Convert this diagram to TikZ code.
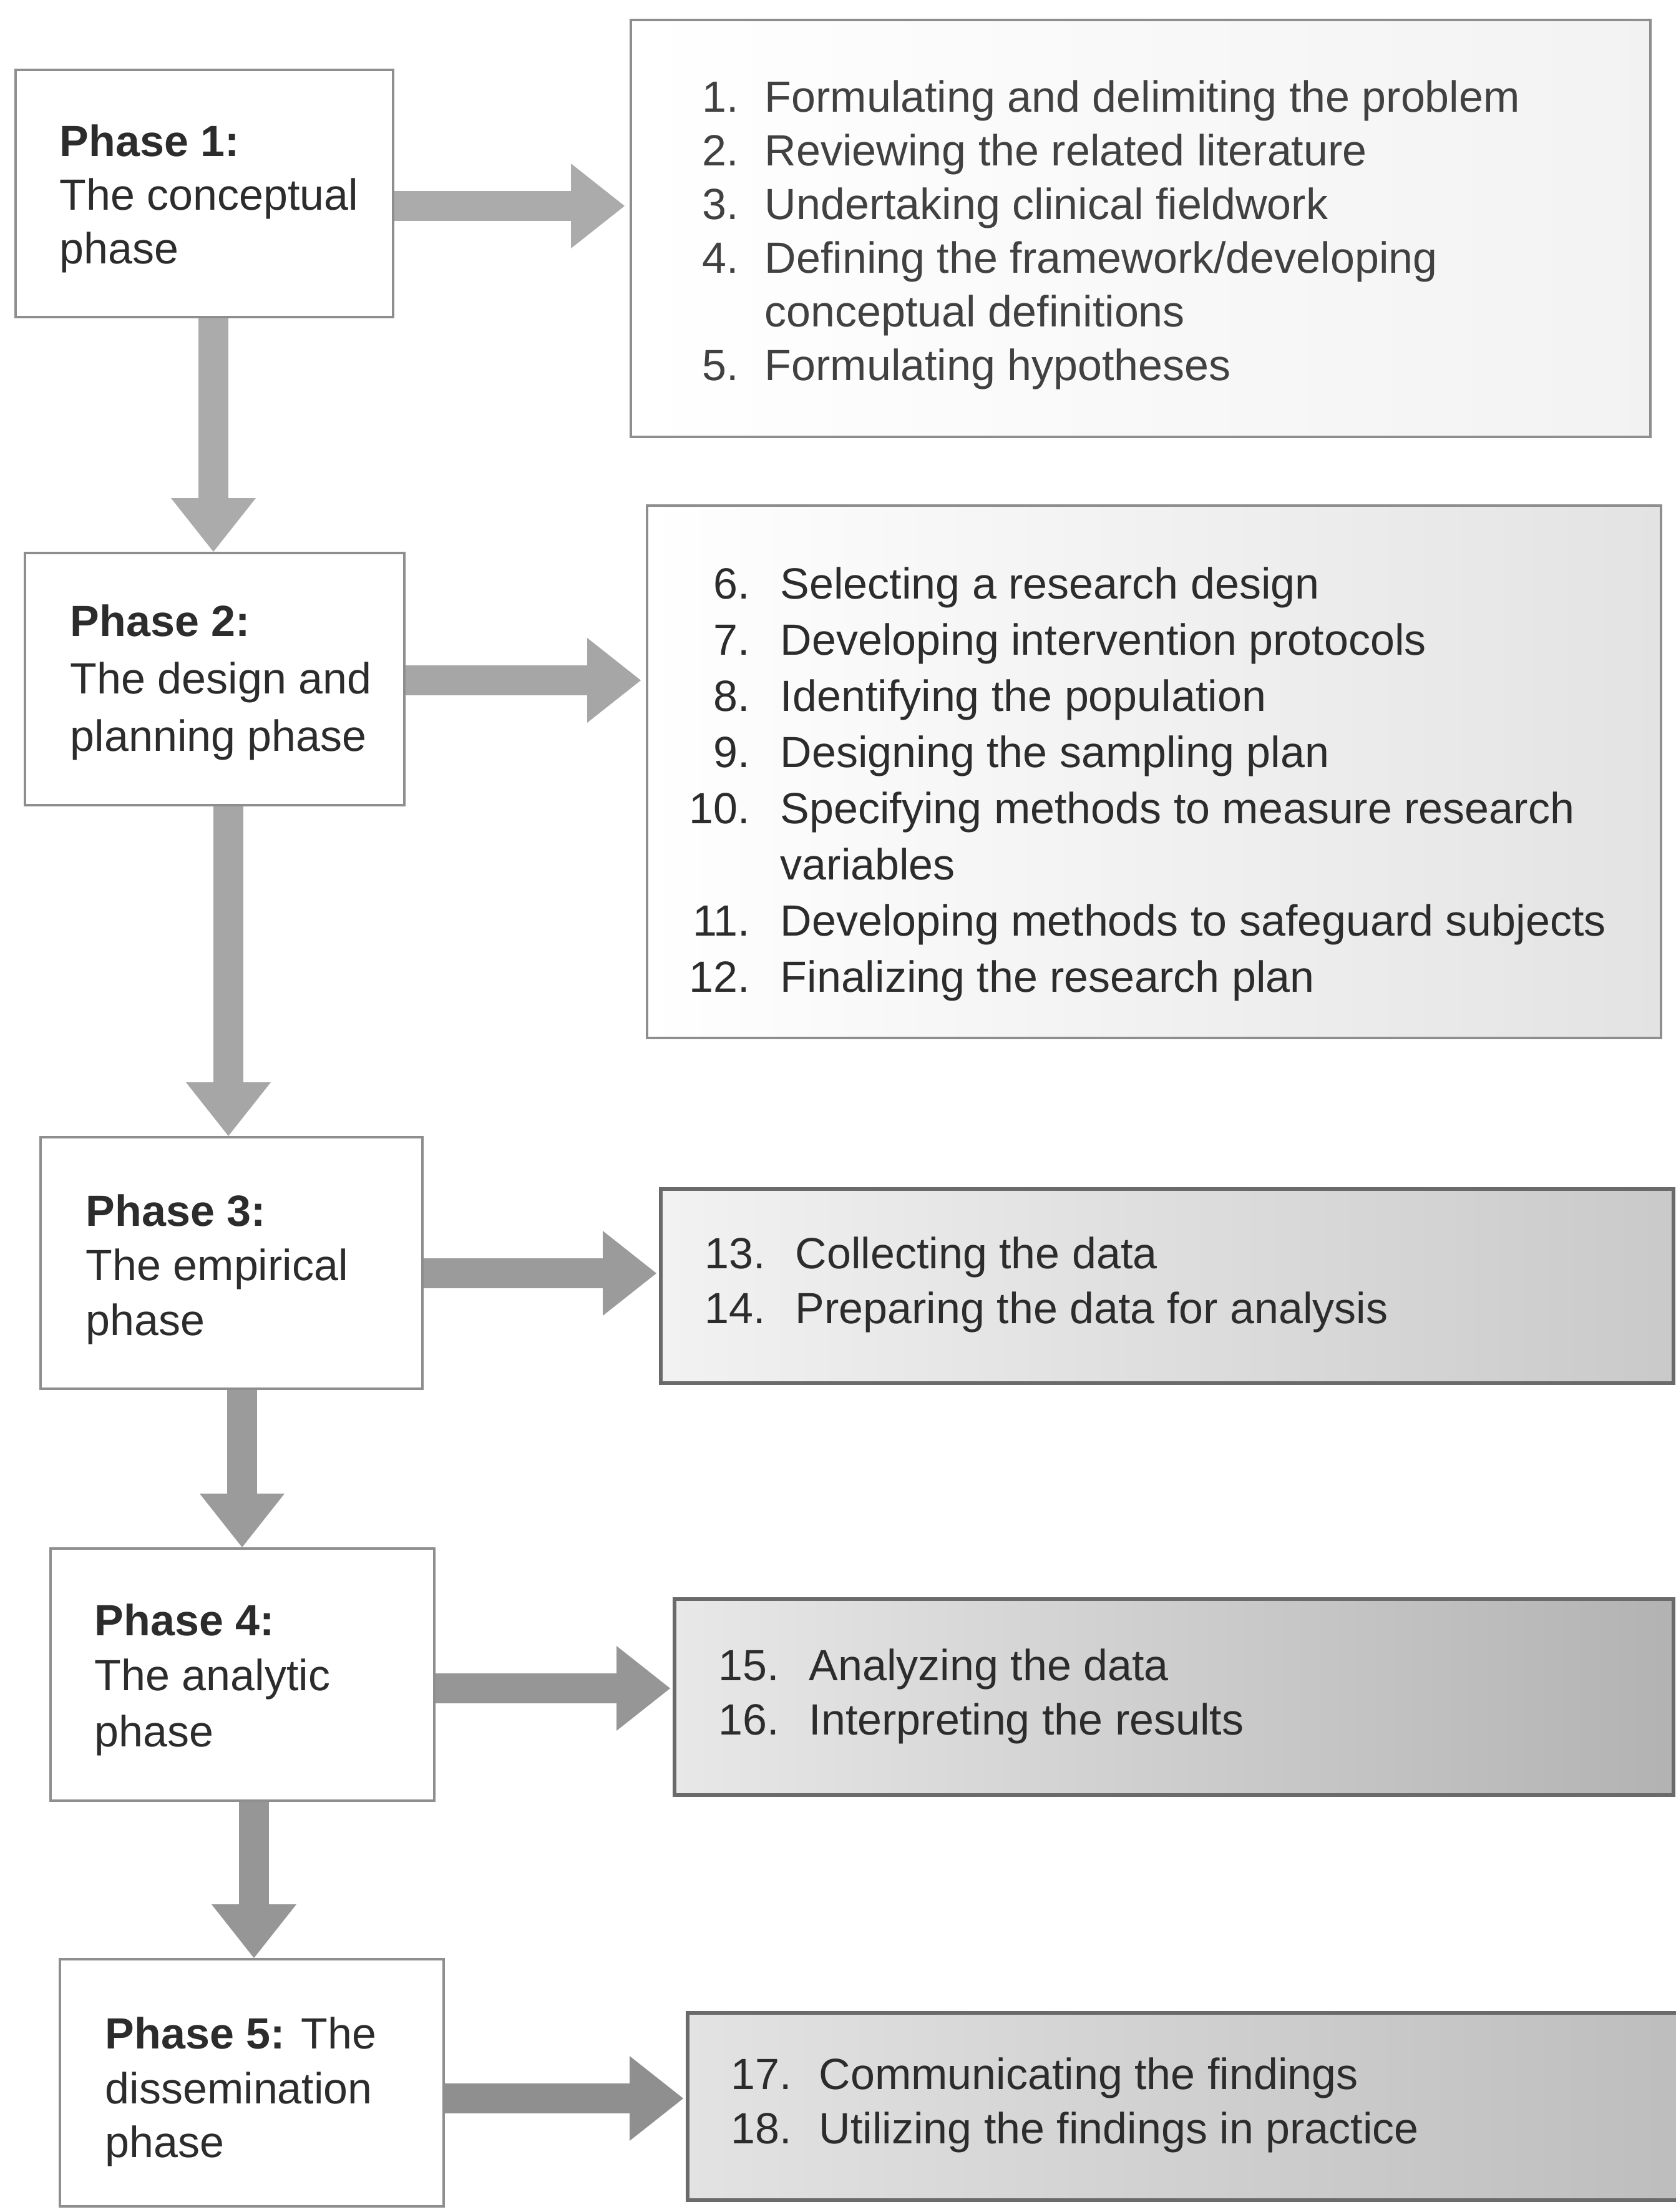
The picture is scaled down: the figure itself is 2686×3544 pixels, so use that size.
\documentclass[tikz,border=0pt]{standalone}
\usepackage{fontspec}
\setmainfont{Liberation Sans}
\usetikzlibrary{arrows.meta}
\definecolor{txt}{HTML}{2C2C2C}
\definecolor{txtl}{HTML}{414141}
\definecolor{bord}{HTML}{8E8E8E}
\definecolor{bordd}{HTML}{6A6A6A}
\definecolor{arA}{HTML}{ABABAB}
\definecolor{arB}{HTML}{A6A6A6}
\definecolor{arC}{HTML}{9B9B9B}
\definecolor{arD}{HTML}{969696}
\definecolor{arE}{HTML}{8F8F8F}
\tikzset{
  phasebox/.style={draw=bord, line width=1pt, fill=white, inner sep=0pt},
  listbox/.style={draw=bord, line width=1pt, inner sep=0pt},
  darkbox/.style={draw=bordd, line width=1.5pt, inner sep=0pt},
  headtxt/.style={inner sep=0pt, anchor=base west, text=txt, font=\fontsize{17.5}{22}\selectfont},
  numtxt/.style={inner sep=0pt, anchor=base east, text=txt, font=\fontsize{17.5}{22}\selectfont},
  itmtxt/.style={inner sep=0pt, anchor=base west, text=txt, font=\fontsize{17.5}{22}\selectfont},
  bigarrow/.style={draw=#1, line width=12pt, line cap=butt,
    -{Triangle[width=34pt,length=21.5pt,line width=0pt]}}
}
\begin{document}
\begin{tikzpicture}[x=0.25pt,y=-0.25pt]
\useasboundingbox (0,0) rectangle (2686,3544);
\fill[white] (0,0) rectangle (2686,3544);

% phase boxes
\node[phasebox, minimum width=151.25pt, minimum height=99pt] (p1) at (327.5,310) {};
\node[phasebox, minimum width=152pt, minimum height=101pt] (p2) at (344,1088) {};
\node[phasebox, minimum width=153pt, minimum height=100.75pt] (p3) at (371,2023.5) {};
\node[phasebox, minimum width=153.75pt, minimum height=101pt] (p4) at (388.5,2683) {};
\node[phasebox, minimum width=153.75pt, minimum height=99pt] (p5) at (403.5,3337) {};

% list boxes
\node[listbox, left color=white, right color=white!95!black, minimum width=408.5pt, minimum height=167pt] (b1) at (1828,366) {};
\node[listbox, left color=white, right color=white!89!black, minimum width=406.25pt, minimum height=213.25pt] (b2) at (1849.5,1236.5) {};
\node[darkbox, left color=white!95!black, right color=white!79!black, minimum width=405.75pt, minimum height=77.75pt] (b3) at (1870.5,2060.5) {};
\node[darkbox, left color=white!91!black, right color=white!70!black, minimum width=400.25pt, minimum height=78.5pt] (b4) at (1881.5,2719) {};
\node[darkbox, left color=white!89!black, right color=white!74!black, minimum width=404.5pt, minimum height=75pt] (b5) at (1911,3375) {};

% phase texts
\node[headtxt] (p1a) at (95,250) {\textbf{Phase 1:}};
\node[headtxt] (p1b) at (95,336) {The conceptual};
\node[headtxt] (p1c) at (95,422) {phase};
\node[headtxt] (p2a) at (112,1019) {\textbf{Phase 2:}};
\node[headtxt] (p2b) at (112,1111) {The design and};
\node[headtxt] (p2c) at (112,1203) {planning phase};
\node[headtxt] (p3a) at (137,1964) {\textbf{Phase 3:}};
\node[headtxt] (p3b) at (137,2051) {The empirical};
\node[headtxt] (p3c) at (137,2139) {phase};
\node[headtxt] (p4a) at (151,2620) {\textbf{Phase 4:}};
\node[headtxt] (p4b) at (151,2708) {The analytic};
\node[headtxt] (p4c) at (151,2798) {phase};
\node[headtxt] (p5a) at (168,3282) {\textbf{Phase 5:} The};
\node[headtxt] (p5b) at (168,3370) {dissemination};
\node[headtxt] (p5c) at (168,3456) {phase};

% box 1
\node[numtxt, text=txtl] (n1) at (1185,179) {1.};
\node[itmtxt, text=txtl] (t1) at (1225,179) {Formulating and delimiting the problem};
\node[numtxt, text=txtl] (n2) at (1185,265) {2.};
\node[itmtxt, text=txtl] (t2) at (1225,265) {Reviewing the related literature};
\node[numtxt, text=txtl] (n3) at (1185,351) {3.};
\node[itmtxt, text=txtl] (t3) at (1225,351) {Undertaking clinical fieldwork};
\node[numtxt, text=txtl] (n4) at (1185,437) {4.};
\node[itmtxt, text=txtl] (t4) at (1225,437) {Defining the framework/developing};
\node[itmtxt, text=txtl] (t4b) at (1225,523) {conceptual definitions};
\node[numtxt, text=txtl] (n5) at (1185,609) {5.};
\node[itmtxt, text=txtl] (t5) at (1225,609) {Formulating hypotheses};

% box 2
\node[numtxt] (n6) at (1203,959) {6.};
\node[itmtxt] (t6) at (1250,959) {Selecting a research design};
\node[numtxt] (n7) at (1203,1049) {7.};
\node[itmtxt] (t7) at (1250,1049) {Developing intervention protocols};
\node[numtxt] (n8) at (1203,1139) {8.};
\node[itmtxt] (t8) at (1250,1139) {Identifying the population};
\node[numtxt] (n9) at (1203,1229) {9.};
\node[itmtxt] (t9) at (1250,1229) {Designing the sampling plan};
\node[numtxt] (n10) at (1203,1319) {10.};
\node[itmtxt] (t10) at (1250,1319) {Specifying methods to measure research};
\node[itmtxt] (t10b) at (1250,1409) {variables};
\node[numtxt] (n11) at (1203,1499) {11.};
\node[itmtxt] (t11) at (1250,1499) {Developing methods to safeguard subjects};
\node[numtxt] (n12) at (1203,1589) {12.};
\node[itmtxt] (t12) at (1250,1589) {Finalizing the research plan};

% box 3
\node[numtxt] (n13) at (1228,2032) {13.};
\node[itmtxt] (t13) at (1274,2032) {Collecting the data};
\node[numtxt] (n14) at (1228,2120) {14.};
\node[itmtxt] (t14) at (1274,2120) {Preparing the data for analysis};

% box 4
\node[numtxt] (n15) at (1250,2692) {15.};
\node[itmtxt] (t15) at (1296,2692) {Analyzing the data};
\node[numtxt] (n16) at (1250,2779) {16.};
\node[itmtxt] (t16) at (1296,2779) {Interpreting the results};

% box 5
\node[numtxt] (n17) at (1270,3347) {17.};
\node[itmtxt] (t17) at (1312,3347) {Communicating the findings};
\node[numtxt] (n18) at (1270,3434) {18.};
\node[itmtxt] (t18) at (1312,3434) {Utilizing the findings in practice};

% arrow guide coordinates
\coordinate (h1) at (0,330);
\coordinate (h2) at (0,1090);
\coordinate (h3) at (0,2040);
\coordinate (h4) at (0,2705);
\coordinate (h5) at (0,3362);
\coordinate (v1) at (342,0);
\coordinate (v2) at (366,0);
\coordinate (v3) at (388,0);
\coordinate (v4) at (407,0);

% horizontal arrows
\draw[bigarrow=arA] (p1.east |- h1) -- ([xshift=-2pt]b1.west |- h1);
\draw[bigarrow=arB] (p2.east |- h2) -- ([xshift=-2pt]b2.west |- h2);
\draw[bigarrow=arC] (p3.east |- h3) -- ([xshift=-1pt]b3.west |- h3);
\draw[bigarrow=arD] (p4.east |- h4) -- ([xshift=-1pt]b4.west |- h4);
\draw[bigarrow=arE] (p5.east |- h5) -- ([xshift=-1pt]b5.west |- h5);

% vertical arrows
\draw[bigarrow=arA] (p1.south -| v1) -- (p2.north -| v1);
\draw[bigarrow=arB] (p2.south -| v2) -- (p3.north -| v2);
\draw[bigarrow=arC] (p3.south -| v3) -- (p4.north -| v3);
\draw[bigarrow=arD] (p4.south -| v4) -- (p5.north -| v4);
\end{tikzpicture}
\end{document}
